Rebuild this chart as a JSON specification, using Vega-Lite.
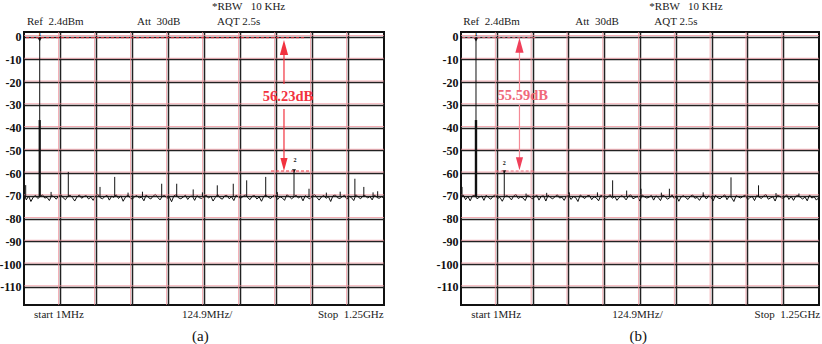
{
"$schema":"https://vega.github.io/schema/vega-lite/v6.json",
"padding":{"left":-2,"top":-1,"right":0,"bottom":0},
"background":"white",
"spacing":48,
"config":{"view":{"stroke":"#111","strokeWidth":2},"text":{"font":"Liberation Serif"},"axis":{"minExtent":0,"labelOverlap":false,"labelBound":false,"labelFlush":false},"axisY":{"minExtent":0},"axisX":{"minExtent":0}},
"datasets":{
"redH":[{"v":-109.55},{"v":-99.55},{"v":-89.55},{"v":-79.55},{"v":-69.55},{"v":-59.55},{"v":-49.55},{"v":-39.55},{"v":-29.55},{"v":-19.55},{"v":-9.55},{"v":0.45}],
"redV":[{"f":120.9},{"f":245.8},{"f":370.7},{"f":495.6},{"f":620.5},{"f":745.4},{"f":870.3},{"f":995.2},{"f":1120.1}],
"nA":[
{"f":1,"v":-69.2},{"f":9,"v":-71.8},{"f":17,"v":-70.1},{"f":25,"v":-72.5},{"f":33,"v":-70.6},{"f":41,"v":-69.8},{"f":49,"v":-71.2},{"f":57,"v":-70.3},{"f":65,"v":-69.5},{"f":73,"v":-71.0},
{"f":81,"v":-70.7},{"f":89,"v":-72.1},{"f":97,"v":-69.9},{"f":105,"v":-70.4},{"f":113,"v":-71.5},{"f":121,"v":-70.0},{"f":129,"v":-69.4},{"f":137,"v":-70.9},{"f":145,"v":-71.7},{"f":153,"v":-70.2},
{"f":161,"v":-69.7},{"f":169,"v":-70.8},{"f":177,"v":-72.3},{"f":185,"v":-70.5},{"f":193,"v":-69.6},{"f":201,"v":-71.1},{"f":209,"v":-70.3},{"f":217,"v":-69.9},{"f":225,"v":-71.4},{"f":233,"v":-70.6},
{"f":241,"v":-72.0},{"f":249,"v":-70.1},{"f":257,"v":-69.3},{"f":265,"v":-70.8},{"f":273,"v":-71.3},{"f":281,"v":-70.4},{"f":289,"v":-69.8},{"f":297,"v":-71.9},{"f":305,"v":-70.2},{"f":313,"v":-70.7},
{"f":321,"v":-69.5},{"f":329,"v":-71.2},{"f":337,"v":-70.0},{"f":345,"v":-72.4},{"f":353,"v":-70.6},{"f":361,"v":-69.7},{"f":369,"v":-70.9},{"f":377,"v":-71.5},{"f":385,"v":-70.3},{"f":393,"v":-69.9},
{"f":401,"v":-71.0},{"f":409,"v":-70.5},{"f":417,"v":-72.2},{"f":425,"v":-69.6},{"f":433,"v":-70.8},{"f":441,"v":-71.4},{"f":449,"v":-70.1},{"f":457,"v":-69.4},{"f":465,"v":-70.7},{"f":473,"v":-71.8},
{"f":481,"v":-70.2},{"f":489,"v":-69.8},{"f":497,"v":-71.1},{"f":505,"v":-70.4},{"f":513,"v":-72.6},{"f":521,"v":-70.0},{"f":529,"v":-69.5},{"f":537,"v":-70.9},{"f":545,"v":-71.3},{"f":553,"v":-70.6},
{"f":561,"v":-69.7},{"f":569,"v":-71.6},{"f":577,"v":-70.3},{"f":585,"v":-70.1},{"f":593,"v":-72.0},{"f":601,"v":-69.9},{"f":609,"v":-70.8},{"f":617,"v":-71.2},{"f":625,"v":-70.5},{"f":633,"v":-69.6},
{"f":641,"v":-71.0},{"f":649,"v":-70.2},{"f":657,"v":-72.3},{"f":665,"v":-70.7},{"f":673,"v":-69.4},{"f":681,"v":-70.9},{"f":689,"v":-71.5},{"f":697,"v":-70.0},{"f":705,"v":-69.8},{"f":713,"v":-71.3},
{"f":721,"v":-70.4},{"f":729,"v":-72.1},{"f":737,"v":-69.7},{"f":745,"v":-70.6},{"f":753,"v":-71.1},{"f":761,"v":-70.3},{"f":769,"v":-69.5},{"f":777,"v":-70.8},{"f":785,"v":-71.7},{"f":793,"v":-70.1},
{"f":801,"v":-69.9},{"f":809,"v":-71.4},{"f":817,"v":-70.5},{"f":825,"v":-72.4},{"f":833,"v":-70.2},{"f":841,"v":-69.6},{"f":849,"v":-70.7},{"f":857,"v":-71.2},{"f":865,"v":-70.0},{"f":873,"v":-69.8},
{"f":881,"v":-71.6},{"f":889,"v":-70.4},{"f":897,"v":-70.9},{"f":905,"v":-72.0},{"f":913,"v":-69.5},{"f":921,"v":-70.3},{"f":929,"v":-71.3},{"f":937,"v":-70.6},{"f":945,"v":-69.7},{"f":953,"v":-71.0},
{"f":961,"v":-70.2},{"f":969,"v":-72.2},{"f":977,"v":-69.9},{"f":985,"v":-70.8},{"f":993,"v":-71.4},{"f":1001,"v":-70.1},{"f":1009,"v":-69.4},{"f":1017,"v":-70.7},{"f":1025,"v":-71.9},{"f":1033,"v":-70.5},
{"f":1041,"v":-69.8},{"f":1049,"v":-71.1},{"f":1057,"v":-70.3},{"f":1065,"v":-72.5},{"f":1073,"v":-70.0},{"f":1081,"v":-69.6},{"f":1089,"v":-70.9},{"f":1097,"v":-71.2},{"f":1105,"v":-70.4},{"f":1113,"v":-69.7},
{"f":1121,"v":-71.5},{"f":1129,"v":-70.2},{"f":1137,"v":-70.8},{"f":1145,"v":-72.1},{"f":1153,"v":-69.5},{"f":1161,"v":-70.6},{"f":1169,"v":-71.3},{"f":1177,"v":-70.0},{"f":1185,"v":-69.9},{"f":1193,"v":-71.0},
{"f":1201,"v":-70.3},{"f":1209,"v":-71.8},{"f":1217,"v":-69.6},{"f":1225,"v":-70.7},{"f":1233,"v":-71.1},{"f":1241,"v":-70.4},{"f":1249,"v":-70.9}],
"nB":[
{"f":1,"v":-70.9},{"f":9,"v":-69.6},{"f":17,"v":-71.7},{"f":25,"v":-70.3},{"f":33,"v":-72.2},{"f":41,"v":-70.0},{"f":49,"v":-69.8},{"f":57,"v":-71.3},{"f":65,"v":-70.6},{"f":73,"v":-70.1},
{"f":81,"v":-72.0},{"f":89,"v":-69.7},{"f":97,"v":-70.8},{"f":105,"v":-71.5},{"f":113,"v":-70.2},{"f":121,"v":-69.5},{"f":129,"v":-71.1},{"f":137,"v":-70.7},{"f":145,"v":-72.4},{"f":153,"v":-70.4},
{"f":161,"v":-69.9},{"f":169,"v":-70.6},{"f":177,"v":-71.8},{"f":185,"v":-70.0},{"f":193,"v":-69.4},{"f":201,"v":-71.2},{"f":209,"v":-70.5},{"f":217,"v":-70.9},{"f":225,"v":-72.1},{"f":233,"v":-69.8},
{"f":241,"v":-70.3},{"f":249,"v":-71.4},{"f":257,"v":-70.7},{"f":265,"v":-69.6},{"f":273,"v":-71.9},{"f":281,"v":-70.2},{"f":289,"v":-70.0},{"f":297,"v":-72.3},{"f":305,"v":-69.7},{"f":313,"v":-70.8},
{"f":321,"v":-71.3},{"f":329,"v":-70.4},{"f":337,"v":-69.5},{"f":345,"v":-71.0},{"f":353,"v":-70.6},{"f":361,"v":-72.0},{"f":369,"v":-70.1},{"f":377,"v":-69.9},{"f":385,"v":-71.6},{"f":393,"v":-70.3},
{"f":401,"v":-70.8},{"f":409,"v":-72.5},{"f":417,"v":-69.6},{"f":425,"v":-70.5},{"f":433,"v":-71.2},{"f":441,"v":-70.0},{"f":449,"v":-69.8},{"f":457,"v":-71.7},{"f":465,"v":-70.4},{"f":473,"v":-70.9},
{"f":481,"v":-72.2},{"f":489,"v":-69.7},{"f":497,"v":-70.2},{"f":505,"v":-71.4},{"f":513,"v":-70.6},{"f":521,"v":-69.4},{"f":529,"v":-71.1},{"f":537,"v":-70.3},{"f":545,"v":-72.0},{"f":553,"v":-70.7},
{"f":561,"v":-69.9},{"f":569,"v":-70.5},{"f":577,"v":-71.8},{"f":585,"v":-70.1},{"f":593,"v":-69.5},{"f":601,"v":-71.3},{"f":609,"v":-70.8},{"f":617,"v":-70.2},{"f":625,"v":-72.3},{"f":633,"v":-69.6},
{"f":641,"v":-70.4},{"f":649,"v":-71.0},{"f":657,"v":-70.6},{"f":665,"v":-69.8},{"f":673,"v":-71.9},{"f":681,"v":-70.0},{"f":689,"v":-70.7},{"f":697,"v":-72.1},{"f":705,"v":-69.7},{"f":713,"v":-70.3},
{"f":721,"v":-71.5},{"f":729,"v":-70.9},{"f":737,"v":-69.5},{"f":745,"v":-71.2},{"f":753,"v":-70.1},{"f":761,"v":-72.4},{"f":769,"v":-70.5},{"f":777,"v":-69.9},{"f":785,"v":-70.8},{"f":793,"v":-71.6},
{"f":801,"v":-70.2},{"f":809,"v":-69.6},{"f":817,"v":-71.1},{"f":825,"v":-70.7},{"f":833,"v":-72.0},{"f":841,"v":-70.3},{"f":849,"v":-69.8},{"f":857,"v":-71.4},{"f":865,"v":-70.0},{"f":873,"v":-70.6},
{"f":881,"v":-72.2},{"f":889,"v":-69.7},{"f":897,"v":-70.9},{"f":905,"v":-71.3},{"f":913,"v":-70.4},{"f":921,"v":-69.5},{"f":929,"v":-71.7},{"f":937,"v":-70.1},{"f":945,"v":-70.8},{"f":953,"v":-72.5},
{"f":961,"v":-69.9},{"f":969,"v":-70.5},{"f":977,"v":-71.0},{"f":985,"v":-70.2},{"f":993,"v":-69.6},{"f":1001,"v":-71.8},{"f":1009,"v":-70.7},{"f":1017,"v":-70.3},{"f":1025,"v":-72.1},{"f":1033,"v":-69.8},
{"f":1041,"v":-70.6},{"f":1049,"v":-71.2},{"f":1057,"v":-70.0},{"f":1065,"v":-69.4},{"f":1073,"v":-71.5},{"f":1081,"v":-70.9},{"f":1089,"v":-70.4},{"f":1097,"v":-72.3},{"f":1105,"v":-69.7},{"f":1113,"v":-70.2},
{"f":1121,"v":-71.1},{"f":1129,"v":-70.8},{"f":1137,"v":-69.5},{"f":1145,"v":-71.6},{"f":1153,"v":-70.3},{"f":1161,"v":-72.0},{"f":1169,"v":-70.1},{"f":1177,"v":-69.9},{"f":1185,"v":-70.7},{"f":1193,"v":-71.4},
{"f":1201,"v":-70.5},{"f":1209,"v":-72.2},{"f":1217,"v":-69.6},{"f":1225,"v":-71.0},{"f":1233,"v":-70.4},{"f":1241,"v":-71.9},{"f":1249,"v":-70.8}],
"sA":[{"f":6.9,"v":-65.3},{"f":55.5,"v":-1.4},{"f":154.7,"v":-59.5},{"f":264.7,"v":-66.1},{"f":315.7,"v":-61.7},{"f":478.7,"v":-64.7},{"f":530.8,"v":-64.7},{"f":588,"v":-67.2},{"f":671.6,"v":-65.4},{"f":727,"v":-64.7},{"f":773.6,"v":-63.2},{"f":839.6,"v":-61.7},{"f":937.8,"v":-59.1},{"f":989.8,"v":-66.9},{"f":1149,"v":-62.5},{"f":1180,"v":-66.1},{"f":95,"v":-68.3},{"f":362,"v":-68.6},{"f":412,"v":-68.2},{"f":620,"v":-68.5},{"f":880,"v":-68.4},{"f":1050,"v":-68.6},{"f":1098,"v":-68.2},{"f":1212,"v":-68.5},{"f":1228,"v":-68.0}],
"sB":[{"f":4.5,"v":-66.1},{"f":53.3,"v":-1.4},{"f":152,"v":-59.5},{"f":530,"v":-63.2},{"f":579,"v":-67.7},{"f":629,"v":-66.9},{"f":728,"v":-66.9},{"f":943,"v":-61.9},{"f":1039,"v":-65.4},{"f":228,"v":-69},{"f":379,"v":-68.5},{"f":477,"v":-68.5},{"f":846,"v":-68.5},{"f":1180,"v":-69},{"f":700,"v":-68.6},{"f":1100,"v":-68.8},{"f":300,"v":-68.7}]
},
"hconcat":[
{"width":360,"height":273,"layer":[
{"data":{"name":"nA"},"mark":{"type":"line","color":"#111","strokeWidth":1},"encoding":{
"x":{"field":"f","type":"quantitative","scale":{"domain":[1,1250],"nice":false,"zero":false},"axis":{"values":[125.9,250.8,375.7,500.6,625.5,750.4,875.3,1000.2,1125.1],"tickCount":30,"minExtent":0,"labels":false,"ticks":false,"domain":false,"grid":true,"gridColor":"#222","gridWidth":1.5,"title":null}},
"y":{"field":"v","type":"quantitative","scale":{"domain":[-118,2],"nice":false,"zero":false},"axis":{"values":[-110,-100,-90,-80,-70,-60,-50,-40,-30,-20,-10,0],"tickCount":30,"minExtent":0,"labelExpr":"datum.value == 0 ? '0' : '-' + abs(datum.value)","ticks":false,"domain":false,"grid":true,"gridColor":"#222","gridWidth":1.5,"labelFont":"Liberation Serif","labelFontSize":12,"labelFontWeight":"bold","labelColor":"#111","labelPadding":3,"title":null}}}},
{"data":{"name":"redH"},"mark":{"type":"rule","color":"#ee8a94","strokeWidth":0.7},"encoding":{"y":{"field":"v","type":"quantitative","scale":{"domain":[-118,2],"nice":false,"zero":false}}}},
{"data":{"name":"redV"},"mark":{"type":"rule","color":"#ee8a94","strokeWidth":0.7},"encoding":{"x":{"field":"f","type":"quantitative","scale":{"domain":[1,1250],"nice":false,"zero":false}}}},
{"data":{"name":"sA"},"mark":{"type":"rule","color":"#111","strokeWidth":1},"encoding":{"x":{"field":"f","type":"quantitative","scale":{"domain":[1,1250],"nice":false,"zero":false}},"y":{"field":"v","type":"quantitative","scale":{"domain":[-118,2],"nice":false,"zero":false}},"y2":{"datum":-70.5}}},
{"data":{"values":[{"f":55.5,"v":-36.7}]},"mark":{"type":"rule","color":"#111","strokeWidth":2.2},"encoding":{"x":{"field":"f","type":"quantitative","scale":{"domain":[1,1250],"nice":false,"zero":false}},"y":{"field":"v","type":"quantitative","scale":{"domain":[-118,2],"nice":false,"zero":false}},"y2":{"datum":-70.5}}},
{"data":{"values":[{"f":55.5,"v":-1.4},{"f":937.8,"v":-59.1}]},"mark":{"type":"point","shape":"triangle-down","filled":true,"color":"#111","size":16,"opacity":1},"encoding":{"x":{"field":"f","type":"quantitative","scale":{"domain":[1,1250],"nice":false,"zero":false}},"y":{"field":"v","type":"quantitative","scale":{"domain":[-118,2],"nice":false,"zero":false}}}},
{"data":{"values":[{"f":55.5,"v":1.0,"t":"1"},{"f":941,"v":-54.3,"t":"2"}]},"mark":{"type":"text","fontSize":6,"fontWeight":"bold","color":"#111","baseline":"middle"},"encoding":{"x":{"field":"f","type":"quantitative","scale":{"domain":[1,1250],"nice":false,"zero":false}},"y":{"field":"v","type":"quantitative","scale":{"domain":[-118,2],"nice":false,"zero":false}},"text":{"field":"t"}}},
{"data":{"values":[{"f":8,"f2":979,"v":-0.5},{"f":858,"f2":997,"v":-59.1}]},"mark":{"type":"rule","color":"#f2323f","strokeWidth":1,"strokeDash":[3,2]},"encoding":{"x":{"field":"f","type":"quantitative","scale":{"domain":[1,1250],"nice":false,"zero":false}},"x2":{"field":"f2"},"y":{"field":"v","type":"quantitative","scale":{"domain":[-118,2],"nice":false,"zero":false}}}},
{"data":{"values":[{"f":903,"v":-8.1,"v2":-20.9},{"f":903,"v":-31.8,"v2":-53.8}]},"mark":{"type":"rule","color":"#f2323f","strokeWidth":1.2},"encoding":{"x":{"field":"f","type":"quantitative","scale":{"domain":[1,1250],"nice":false,"zero":false}},"y":{"field":"v","type":"quantitative","scale":{"domain":[-118,2],"nice":false,"zero":false}},"y2":{"field":"v2"}}},
{"data":{"values":[{"f":903,"v":-4.8}]},"mark":{"type":"point","shape":"M-0.55,1L0,-1L0.55,1Z","filled":true,"color":"#f2323f","size":225,"opacity":1},"encoding":{"x":{"field":"f","type":"quantitative","scale":{"domain":[1,1250],"nice":false,"zero":false}},"y":{"field":"v","type":"quantitative","scale":{"domain":[-118,2],"nice":false,"zero":false}}}},
{"data":{"values":[{"f":903,"v":-56.2}]},"mark":{"type":"point","shape":"M-0.55,-1L0,1L0.55,-1Z","filled":true,"color":"#f2323f","size":170,"opacity":1},"encoding":{"x":{"field":"f","type":"quantitative","scale":{"domain":[1,1250],"nice":false,"zero":false}},"y":{"field":"v","type":"quantitative","scale":{"domain":[-118,2],"nice":false,"zero":false}}}},
{"data":{"values":[{"f":917,"v":-26.6,"t":"56.23dB"}]},"mark":{"type":"text","fontSize":14.5,"fontWeight":"bold","color":"#f2323f","align":"center","baseline":"middle"},"encoding":{"x":{"field":"f","type":"quantitative","scale":{"domain":[1,1250],"nice":false,"zero":false}},"y":{"field":"v","type":"quantitative","scale":{"domain":[-118,2],"nice":false,"zero":false}},"text":{"field":"t"}}},
{"data":{"values":[{"f":11.4,"v":6.4,"t":"Ref\u00a0\u00a02.4dBm"},{"f":393,"v":6.4,"t":"Att\u00a0\u00a030dB"},{"f":671,"v":6.4,"t":"AQT 2.5s"},{"f":653,"v":13.0,"t":"*RBW\u00a0\u00a0\u00a010 KHz"},{"f":36,"v":-122.4,"t":"start 1MHz"},{"f":549,"v":-122.4,"t":"124.9MHz/"},{"f":1021,"v":-122.4,"t":"Stop\u00a0\u00a01.25GHz"}]},"mark":{"type":"text","fontSize":11,"color":"#1a1a1a","align":"left","baseline":"middle"},"encoding":{"x":{"field":"f","type":"quantitative","scale":{"domain":[1,1250],"nice":false,"zero":false}},"y":{"field":"v","type":"quantitative","scale":{"domain":[-118,2],"nice":false,"zero":false}},"text":{"field":"t"}}},
{"data":{"values":[{"f":584,"v":-131.6,"t":"(a)"}]},"mark":{"type":"text","fontSize":15,"color":"#111","align":"left","baseline":"middle"},"encoding":{"x":{"field":"f","type":"quantitative","scale":{"domain":[1,1250],"nice":false,"zero":false}},"y":{"field":"v","type":"quantitative","scale":{"domain":[-118,2],"nice":false,"zero":false}},"text":{"field":"t"}}}
]},
{"width":358,"height":273,"layer":[
{"data":{"name":"nB"},"mark":{"type":"line","color":"#111","strokeWidth":1},"encoding":{
"x":{"field":"f","type":"quantitative","scale":{"domain":[1,1250],"nice":false,"zero":false},"axis":{"values":[125.9,250.8,375.7,500.6,625.5,750.4,875.3,1000.2,1125.1],"tickCount":30,"minExtent":0,"labels":false,"ticks":false,"domain":false,"grid":true,"gridColor":"#222","gridWidth":1.5,"title":null}},
"y":{"field":"v","type":"quantitative","scale":{"domain":[-118,2],"nice":false,"zero":false},"axis":{"values":[-110,-100,-90,-80,-70,-60,-50,-40,-30,-20,-10,0],"tickCount":30,"minExtent":0,"labelExpr":"datum.value == 0 ? '0' : '-' + abs(datum.value)","ticks":false,"domain":false,"grid":true,"gridColor":"#222","gridWidth":1.5,"labelFont":"Liberation Serif","labelFontSize":12,"labelFontWeight":"bold","labelColor":"#111","labelPadding":3,"title":null}}}},
{"data":{"name":"redH"},"mark":{"type":"rule","color":"#ee8a94","strokeWidth":0.7},"encoding":{"y":{"field":"v","type":"quantitative","scale":{"domain":[-118,2],"nice":false,"zero":false}}}},
{"data":{"name":"redV"},"mark":{"type":"rule","color":"#ee8a94","strokeWidth":0.7},"encoding":{"x":{"field":"f","type":"quantitative","scale":{"domain":[1,1250],"nice":false,"zero":false}}}},
{"data":{"name":"sB"},"mark":{"type":"rule","color":"#111","strokeWidth":1},"encoding":{"x":{"field":"f","type":"quantitative","scale":{"domain":[1,1250],"nice":false,"zero":false}},"y":{"field":"v","type":"quantitative","scale":{"domain":[-118,2],"nice":false,"zero":false}},"y2":{"datum":-70.5}}},
{"data":{"values":[{"f":53.3,"v":-36.7}]},"mark":{"type":"rule","color":"#111","strokeWidth":2.4},"encoding":{"x":{"field":"f","type":"quantitative","scale":{"domain":[1,1250],"nice":false,"zero":false}},"y":{"field":"v","type":"quantitative","scale":{"domain":[-118,2],"nice":false,"zero":false}},"y2":{"datum":-70.5}}},
{"data":{"values":[{"f":53.3,"v":-1.4},{"f":152,"v":-59.5}]},"mark":{"type":"point","shape":"triangle-down","filled":true,"color":"#111","size":16,"opacity":1},"encoding":{"x":{"field":"f","type":"quantitative","scale":{"domain":[1,1250],"nice":false,"zero":false}},"y":{"field":"v","type":"quantitative","scale":{"domain":[-118,2],"nice":false,"zero":false}}}},
{"data":{"values":[{"f":53.3,"v":1.0,"t":"1"},{"f":152,"v":-55.6,"t":"2"}]},"mark":{"type":"text","fontSize":6,"fontWeight":"bold","color":"#111","baseline":"middle"},"encoding":{"x":{"field":"f","type":"quantitative","scale":{"domain":[1,1250],"nice":false,"zero":false}},"y":{"field":"v","type":"quantitative","scale":{"domain":[-118,2],"nice":false,"zero":false}},"text":{"field":"t"}}},
{"data":{"values":[{"f":5.5,"f2":264,"v":-0.5},{"f":122,"f2":258,"v":-59.1}]},"mark":{"type":"rule","color":"#f0697a","strokeWidth":1,"strokeDash":[3,2]},"encoding":{"x":{"field":"f","type":"quantitative","scale":{"domain":[1,1250],"nice":false,"zero":false}},"x2":{"field":"f2"},"y":{"field":"v","type":"quantitative","scale":{"domain":[-118,2],"nice":false,"zero":false}}}},
{"data":{"values":[{"f":205,"v":-6.8,"v2":-23.5},{"f":205,"v":-30.1,"v2":-53.7}]},"mark":{"type":"rule","color":"#f58a96","strokeWidth":1.2},"encoding":{"x":{"field":"f","type":"quantitative","scale":{"domain":[1,1250],"nice":false,"zero":false}},"y":{"field":"v","type":"quantitative","scale":{"domain":[-118,2],"nice":false,"zero":false}},"y2":{"field":"v2"}}},
{"data":{"values":[{"f":205,"v":-3.8}]},"mark":{"type":"point","shape":"M-0.55,1L0,-1L0.55,1Z","filled":true,"color":"#f0405a","size":225,"opacity":1},"encoding":{"x":{"field":"f","type":"quantitative","scale":{"domain":[1,1250],"nice":false,"zero":false}},"y":{"field":"v","type":"quantitative","scale":{"domain":[-118,2],"nice":false,"zero":false}}}},
{"data":{"values":[{"f":205,"v":-55.9}]},"mark":{"type":"point","shape":"M-0.55,-1L0,1L0.55,-1Z","filled":true,"color":"#f0405a","size":170,"opacity":1},"encoding":{"x":{"field":"f","type":"quantitative","scale":{"domain":[1,1250],"nice":false,"zero":false}},"y":{"field":"v","type":"quantitative","scale":{"domain":[-118,2],"nice":false,"zero":false}}}},
{"data":{"values":[{"f":216.6,"v":-26.3,"t":"55.59dB"}]},"mark":{"type":"text","fontSize":14.5,"fontWeight":"bold","color":"#f0697a","align":"center","baseline":"middle"},"encoding":{"x":{"field":"f","type":"quantitative","scale":{"domain":[1,1250],"nice":false,"zero":false}},"y":{"field":"v","type":"quantitative","scale":{"domain":[-118,2],"nice":false,"zero":false}},"text":{"field":"t"}}},
{"data":{"values":[{"f":9,"v":6.4,"t":"Ref\u00a0\u00a02.4dBm"},{"f":400,"v":6.4,"t":"Att\u00a0\u00a030dB"},{"f":675.5,"v":6.4,"t":"AQT 2.5s"},{"f":658,"v":13.0,"t":"*RBW\u00a0\u00a0\u00a010 KHz"},{"f":37,"v":-122.4,"t":"start 1MHz"},{"f":529,"v":-122.4,"t":"124.9MHz/"},{"f":1025,"v":-122.4,"t":"Stop\u00a0\u00a01.25GHz"}]},"mark":{"type":"text","fontSize":11,"color":"#1a1a1a","align":"left","baseline":"middle"},"encoding":{"x":{"field":"f","type":"quantitative","scale":{"domain":[1,1250],"nice":false,"zero":false}},"y":{"field":"v","type":"quantitative","scale":{"domain":[-118,2],"nice":false,"zero":false}},"text":{"field":"t"}}},
{"data":{"values":[{"f":589,"v":-131.6,"t":"(b)"}]},"mark":{"type":"text","fontSize":15,"color":"#111","align":"left","baseline":"middle"},"encoding":{"x":{"field":"f","type":"quantitative","scale":{"domain":[1,1250],"nice":false,"zero":false}},"y":{"field":"v","type":"quantitative","scale":{"domain":[-118,2],"nice":false,"zero":false}},"text":{"field":"t"}}}
]}
]
}
